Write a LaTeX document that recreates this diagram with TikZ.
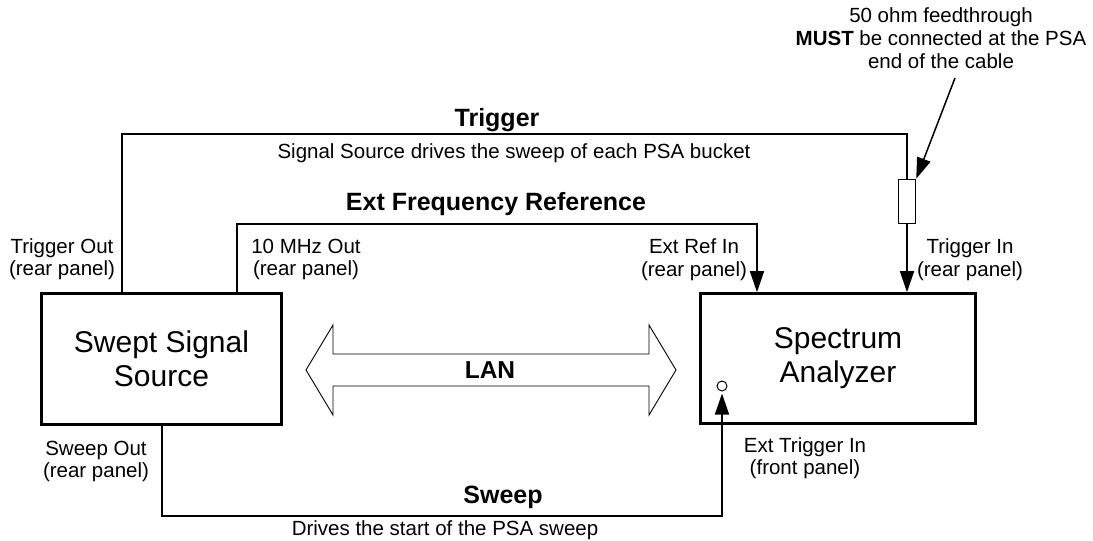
\documentclass[tikz,border=0pt]{standalone}
\usepackage{fontspec}
\setmainfont{Liberation Sans}
\usetikzlibrary{arrows.meta}
\begin{document}
\begin{tikzpicture}[x=1pt,y=-1pt,
  box/.style={draw, line width=2.6pt, inner sep=0pt, align=center, font=\fontsize{30}{34}\selectfont},
  conn/.style={line width=1.5pt},
  tip/.style={-{Triangle[length=21pt,width=14pt]}},
  lbl/.style={font=\fontsize{20.5}{22}\selectfont, inner sep=0pt, anchor=base},
  ttl/.style={font=\bfseries\fontsize{25}{28}\selectfont, inner sep=0pt, anchor=base}]
\fill[white] (0,0) rectangle (1093,541);
\useasboundingbox (0,0) rectangle (1093,541);

% main boxes
\node[box, minimum width=240pt, minimum height=131pt] (sss) at (161.5,359) {Swept Signal\\Source};
\node[box, minimum width=275pt, minimum height=130pt] (sa) at (838,358.5) {Spectrum\\Analyzer};

% feedthrough and front-panel connector
\node[draw, line width=1.5pt, minimum width=17pt, minimum height=44pt, inner sep=0pt] (ft) at (907,201.5) {};
\node[circle, draw, line width=1pt, minimum size=10pt, inner sep=0pt] (circ) at (722,386) {};

% Trigger
\coordinate (tc) at (122,134);
\draw[conn] (tc |- sss.north) -- (tc) -| (ft.north);
\draw[conn,tip] (ft.south) -- (ft.south |- sa.north);

% Ext frequency reference
\coordinate (ec1) at (237,224);
\coordinate (ec2) at (757,224);
\draw[conn,tip] (ec1 |- sss.north) -- (ec1) -- (ec2) -- (ec2 |- sa.north);

% Sweep
\coordinate (sw1) at (162,516);
\coordinate (sw2) at (722,516);
\draw[conn,tip,shorten >=2pt] (sw1 |- sss.south) -- (sw1) -- (sw2) -- (circ.south);

% annotation arrow
\coordinate (an) at (955,78);
\draw[conn,tip] (an) -- (ft.north east);

% LAN double arrow
\draw[line width=0.9pt, line join=miter] (306,370) -- (333,325) -- (333,354) -- (649,354) -- (649,325) -- (676,370)
  -- (649,415) -- (649,386) -- (333,386) -- (333,415) -- cycle;
\node[font=\bfseries\fontsize{24.5}{28}\selectfont, inner sep=0pt] (lan) at (490,370) {LAN};

% titles
\node[ttl] (ttrig) at (497,126) {Trigger};
\node[lbl] (strig) at (514,158) {Signal Source drives the sweep of each PSA bucket};
\node[ttl] (tref) at (496,210) {Ext Frequency Reference};
\node[ttl] (tsweep) at (503,503) {Sweep};
\node[lbl] (ssweep) at (445,535) {Drives the start of the PSA sweep};

% port labels
\node[lbl] (to1) at (62,253) {Trigger Out};
\node[lbl] (to2) at (62,275) {(rear panel)};
\node[lbl] (mo1) at (306,253) {10 MHz Out};
\node[lbl] (mo2) at (306,275) {(rear panel)};
\node[lbl] (ri1) at (694,253) {Ext Ref In};
\node[lbl] (ri2) at (694,276) {(rear panel)};
\node[lbl] (ti1) at (970,253) {Trigger In};
\node[lbl] (ti2) at (970,276) {(rear panel)};
\node[lbl] (so1) at (96,455) {Sweep Out};
\node[lbl] (so2) at (96,477) {(rear panel)};
\node[lbl] (et1) at (805,452) {Ext Trigger In};
\node[lbl] (et2) at (805,474) {(front panel)};

% annotation text
\node[lbl] (a1) at (941,22) {50 ohm feedthrough};
\node[lbl] (a2) at (941,45) {\textbf{MUST} be connected at the PSA};
\node[lbl] (a3) at (941,68) {end of the cable};
\end{tikzpicture}
\end{document}
